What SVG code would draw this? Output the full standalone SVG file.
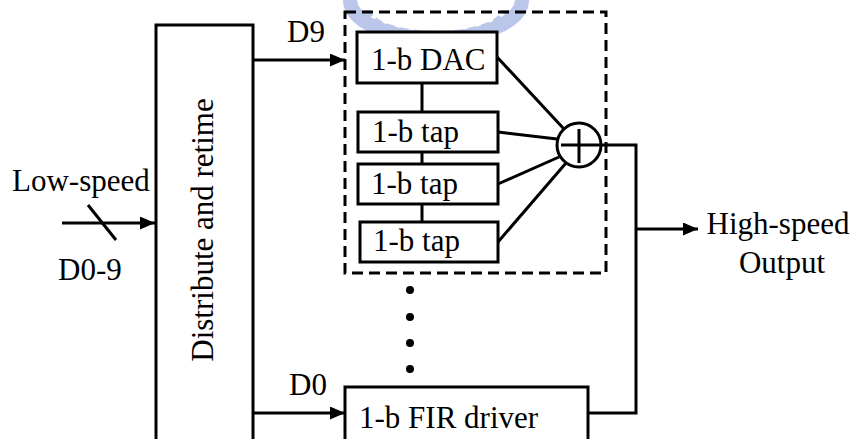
<svg xmlns="http://www.w3.org/2000/svg" width="859" height="439" viewBox="0 0 859 439">
<defs>
<style>
.box{fill:#fff;stroke:#000;stroke-width:3}
.ln{fill:none;stroke:#000;stroke-width:3}
.t{font-family:"Liberation Serif","Times New Roman",serif;fill:#000;font-size:31px}
</style>
<marker id="ah" markerWidth="15" markerHeight="13" refX="15" refY="6.5" orient="auto" markerUnits="userSpaceOnUse">
<path d="M0,0 L15,6.5 L0,13 Z" fill="#000"/>
</marker>
</defs>
<rect width="859" height="439" fill="#fff"/>
<g id="watermark" opacity="0.6">
<path d="M350,0 A85,38 0 0 0 522,0" fill="none" stroke="#8fa2dd" stroke-width="14"/>
<path d="M366,10 A70,26 0 0 0 506,10" fill="none" stroke="#8fa2dd" stroke-width="10" stroke-dasharray="9 5"/>
</g>
<g id="distribute">
<rect class="box" x="156" y="25" width="97" height="430"/>
<text class="t" text-anchor="middle" transform="translate(213,230) rotate(-90)">Distribute and retime</text>
</g>
<g id="group">
<rect x="345" y="12" width="261" height="261" fill="none" stroke="#000" stroke-width="3" stroke-dasharray="11 6"/>
</g>
<g id="dac">
<rect class="box" x="357" y="32" width="140" height="51"/>
<text class="t" x="371" y="70">1-b DAC</text>
</g>
<g id="tap1">
<rect class="box" x="358" y="112" width="140" height="40"/>
<text class="t" x="372" y="142">1-b tap</text>
</g>
<g id="tap2">
<rect class="box" x="358" y="164" width="140" height="40"/>
<text class="t" x="371" y="194">1-b tap</text>
</g>
<g id="tap3">
<rect class="box" x="360" y="222" width="138" height="40"/>
<text class="t" x="373" y="251">1-b tap</text>
</g>
<g id="sum">
<circle cx="579" cy="145" r="22" fill="#fff" stroke="#000" stroke-width="3"/>
<path class="ln" d="M561,145 H601 M579,129 V163"/>
</g>
<g id="fir">
<rect class="box" x="345" y="387" width="243" height="70"/>
<text class="t" x="359" y="428">1-b FIR driver</text>
</g>
<g id="dots" fill="#000">
<circle cx="410" cy="290" r="4"/>
<circle cx="410" cy="317" r="4"/>
<circle cx="410" cy="343" r="4"/>
<circle cx="410" cy="369" r="4"/>
</g>
<g id="connectors">
<path class="ln" d="M62,223 H155" marker-end="url(#ah)"/>
<path class="ln" d="M88,205 L116,240"/>
<path class="ln" d="M253,60 H345" marker-end="url(#ah)"/>
<path class="ln" d="M253,413 H345" marker-end="url(#ah)"/>
<path class="ln" d="M422,83 V112 M422,152 V164 M422,204 V222"/>
<path class="ln" d="M497,57 L564,129 M498,132 L557,139 M498,184 L559,157 M498,242 L566,163"/>
<path class="ln" d="M601,145 H636 V413 H588"/>
<path class="ln" d="M636,229 H698" marker-end="url(#ah)"/>
</g>
<g id="labels">
<text class="t" x="287" y="42">D9</text>
<text class="t" x="289" y="395">D0</text>
<text class="t" x="12" y="191">Low-speed</text>
<text class="t" x="58" y="280">D0-9</text>
<text class="t" x="778" y="234" text-anchor="middle">High-speed</text>
<text class="t" x="782" y="273" text-anchor="middle">Output</text>
</g>
</svg>
